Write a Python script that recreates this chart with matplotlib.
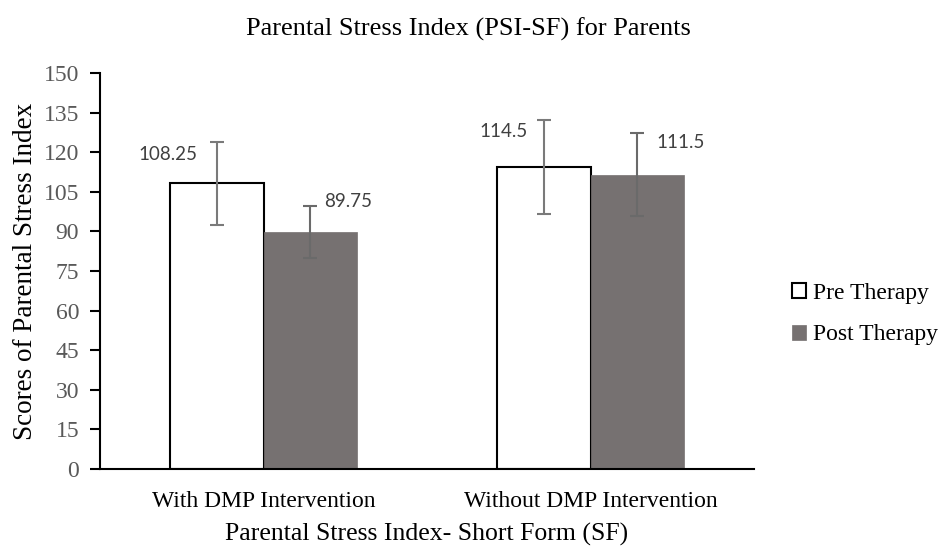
import numpy as np
import matplotlib.pyplot as plt

categories = ["With DMP Intervention", "Without DMP Intervention"]
series_names = ["Pre Therapy", "Post Therapy"]
pre_vals = [108.25, 114.5]
post_vals = [89.75, 111.5]
pre_err = [15.75, 17.8]
post_err = [9.8, 15.6]
yticks = np.arange(0, 151, 15)

serif = "Liberation Serif"
# label offsets (pixels) as hand-placed in the original
pre_off = [(-49, 20), (-40, 27)]
post_off = [(38, 22), (44, 24)]

fig = plt.figure(figsize=(9.41, 5.47), dpi=100)
ax = fig.add_axes([100 / 941, 78 / 547, 654 / 941, 396 / 547])

x = np.arange(len(categories))
w = 0.285
ax.bar(x - w / 2, pre_vals, w, color="white", edgecolor="black", linewidth=1.5,
       label=series_names[0], zorder=2)
ax.bar(x + w / 2, post_vals, w, color="#767171", edgecolor="#767171", linewidth=0.5,
       label=series_names[1], zorder=2)
ax.errorbar(x - w / 2, pre_vals, yerr=pre_err, fmt="none", ecolor="#7a7a7a",
            elinewidth=1.5, capsize=5, capthick=1.5, zorder=3)
ax.errorbar(x + w / 2, post_vals, yerr=post_err, fmt="none", ecolor="#6a6a6a",
            elinewidth=1.5, capsize=5, capthick=1.5, zorder=3)

for i in range(len(categories)):
    ax.annotate(f"{pre_vals[i]:g}", (x[i] - w / 2, pre_vals[i]), xytext=pre_off[i],
                textcoords="offset pixels", ha="center", va="bottom", fontsize=13.5,
                family="Lato", color="#404040")
    ax.annotate(f"{post_vals[i]:g}", (x[i] + w / 2, post_vals[i]), xytext=post_off[i],
                textcoords="offset pixels", ha="center", va="bottom", fontsize=13.5,
                family="Lato", color="#404040")

ax.set_xlim(-0.5, 1.5)
ax.set_ylim(0, 150)
ax.set_yticks(yticks)
ax.set_xticks(x)
ax.set_xticklabels(categories, family=serif, fontsize=17)
ax.tick_params(axis="x", length=0, pad=15.5)
ax.tick_params(axis="y", length=7, width=1.5, labelsize=17, labelcolor="#595959", pad=8)
for lab in ax.get_yticklabels():
    lab.set_family(serif)
for s in ["top", "right"]:
    ax.spines[s].set_visible(False)
ax.spines["left"].set_linewidth(1.5)
ax.spines["bottom"].set_linewidth(1.5)

ax.set_ylabel("Scores of Parental Stress Index", family=serif, fontsize=19.5, labelpad=4)
ax.set_xlabel("Parental Stress Index- Short Form (SF)", family=serif, fontsize=18.5, labelpad=8)
fig.text(468 / 941, 1 - 29 / 547, "Parental Stress Index (PSI-SF) for Parents", family=serif,
         fontsize=19, ha="center", va="center")

fig.legend(loc="center left", bbox_to_anchor=(792 / 941, 1 - 314 / 547), frameon=False,
           prop={"family": serif, "size": 17}, handlelength=0.6, handleheight=0.6,
           handletextpad=0.3, labelspacing=0.88, borderpad=0, borderaxespad=0)

fig.savefig("out.png", dpi=100)
